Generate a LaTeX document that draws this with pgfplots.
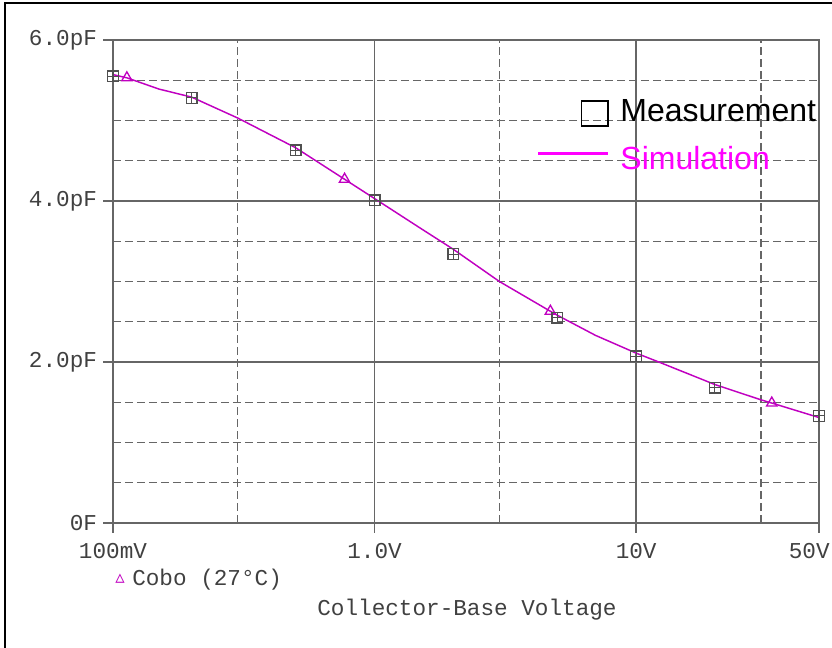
\documentclass[border=0pt]{standalone}
\usepackage{pgfplots}
\pgfplotsset{compat=1.18}
\usepackage{fontspec}
\setmainfont{Liberation Sans}
\setmonofont{Liberation Mono}
\newfontfamily\dejavu{DejaVu Sans}
\definecolor{grd}{HTML}{666666}
\definecolor{trace}{HTML}{C000C0}
\definecolor{sim}{HTML}{FF00FF}
\definecolor{meas}{HTML}{505050}
\definecolor{txt}{HTML}{404040}

\begin{document}
\begin{tikzpicture}[x=0.75pt,y=0.75pt]
\useasboundingbox (0,0) rectangle (832,648);
\draw[line width=1.5pt] (5,0) -- (5,645) -- (832,645);
\begin{axis}[
 at={(84.75pt,93.75pt)}, anchor=south west,
 scale only axis, width=529.5pt, height=362.25pt,
 xmode=log, xmin=0.1, xmax=50, ymin=0, ymax=6,
 axis line style={grd, line width=1.3pt},
 xtick={0.1,1,10,50}, xticklabels={100mV,1.0V,10V,\makebox[16pt][r]{50V}},
 minor xtick={0.3,3,30},
 ytick={0,2,4,6}, yticklabels={0F,2.0pF,4.0pF,6.0pF},
 minor ytick={0.5,1,1.5,2.5,3,3.5,4.5,5,5.5},
 tick pos=left, tick align=outside,
 major tick length=7.5pt, minor tick length=0pt,
 tick style={grd, line width=1pt},
 grid=both,
 major grid style={grd, line width=1pt},
 minor grid style={grd, line width=1pt, dash pattern=on 6pt off 3pt},
 ticklabel style={font=\fontsize{17}{17}\selectfont\ttfamily, text=txt},
 xticklabel style={yshift=-4.5pt},
 yticklabel style={xshift=-1pt},
 legend style={at={(rel axis cs:1,1)}, anchor=north east, xshift=-2pt, yshift=-44pt,
   draw=none, fill=none, inner sep=0pt, row sep=14pt, column sep=8pt,
   font=\fontsize{24}{28}\selectfont,
   nodes={inner sep=0pt, text height=17pt, text depth=5pt}},
 legend cell align=left,
]
% simulation curve
\addplot[trace, line width=1.1pt, forget plot] coordinates {
 (0.1,5.57) (0.113,5.53) (0.15,5.39) (0.2,5.29) (0.3,5.03) (0.5,4.66)
 (0.768,4.27) (1,4.03) (1.5,3.66) (2,3.40) (3,3.00) (4.7,2.63) (5,2.58)
 (7,2.33) (10,2.11) (12.2,2.00) (20,1.72) (30,1.53) (33,1.49) (50,1.31)};
% simulation markers
\addplot[trace, only marks, mark=triangle, mark size=4.5pt, line width=1pt, forget plot] coordinates {
 (0.113,5.53) (0.768,4.27) (4.7,2.63) (33,1.49)};
% measurements
\addplot[meas, only marks, mark=square, mark size=4pt, line width=1pt, forget plot] coordinates {
 (0.1,5.55) (0.2,5.28) (0.5,4.63) (1,4.01) (2,3.34) (5,2.55) (10,2.07) (20,1.68) (50,1.33)};
\addplot[meas, only marks, mark=+, mark size=4pt, line width=0.8pt, forget plot] coordinates {
 (0.1,5.55) (0.2,5.28) (0.5,4.63) (1,4.01) (2,3.34) (5,2.55) (10,2.07) (20,1.68) (50,1.33)};
\addlegendimage{legend image code/.code={
  \path[draw=none,fill=none] (-52.5pt,-10pt) rectangle (0pt,10pt);
  \draw[black,line width=1.2pt] (-20pt,-9.5pt) rectangle (0pt,9.5pt);}}
\addlegendentry{Measurement}
\addlegendimage{legend image code/.code={
  \path[draw=none,fill=none] (-52.5pt,-10pt) rectangle (0pt,10pt);
  \draw[sim,line width=2.5pt] (-52.5pt,6pt) -- (0pt,6pt);}}
\addlegendentry[text=sim]{Simulation}
\end{axis}
\node[text=trace, font=\dejavu\fontsize{14}{14}\selectfont] at (120,69) {▵};
\node[anchor=west, inner sep=0pt, text=txt, font=\fontsize{17}{17}\selectfont\ttfamily] at (132,68) {Cobo (27°C)};
\node[text=txt, font=\fontsize{17}{17}\selectfont\ttfamily] at (467,38) {Collector-Base Voltage};
\end{tikzpicture}
\end{document}
